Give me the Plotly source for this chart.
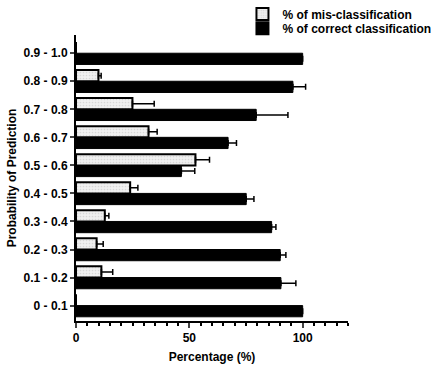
import plotly.graph_objects as go

categories = ["0 - 0.1", "0.1 - 0.2", "0.2 - 0.3", "0.3 - 0.4", "0.4 - 0.5",
              "0.5 - 0.6", "0.6 - 0.7", "0.7 - 0.8", "0.8 - 0.9", "0.9 - 1.0"]
mis_values = [0, 11.2, 9.1, 12.7, 23.9, 52.7, 32.0, 24.9, 9.9, 0]
mis_errors = [0, 5.0, 2.9, 1.8, 3.4, 6.2, 3.8, 9.6, 1.2, 0]
correct_values = [100, 90.4, 90.1, 86.3, 75.1, 46.5, 67.1, 79.5, 95.7, 100]
correct_errors = [0, 6.6, 2.5, 1.9, 3.4, 5.9, 3.7, 14.0, 5.6, 0]
x_ticks = [0, 50, 100]

FAM = "Liberation Sans, Arial, sans-serif"
bold = dict(family=FAM, size=12, color="black", weight="bold")

fig = go.Figure()
fig.add_trace(go.Bar(
    y=categories, x=correct_values, orientation="h",
    name="% of correct classification", legend="legend2",
    marker=dict(color="black", line=dict(color="black", width=1)),
    error_x=dict(type="data", array=correct_errors, arrayminus=[0]*len(categories),
                 symmetric=False, color="black", thickness=1.5, width=3),
))
fig.add_trace(go.Bar(
    y=categories, x=mis_values, orientation="h",
    name="% of mis-classification", legend="legend",
    marker=dict(color="#ededed", line=dict(color="black", width=2),
                pattern=dict(shape=".", fgcolor="#bdbdbd", bgcolor="#f0f0f0", size=3, solidity=0.25)),
    error_x=dict(type="data", array=mis_errors, arrayminus=[0]*len(categories),
                 symmetric=False, color="black", thickness=1.5, width=3),
))

leg_common = dict(xanchor="left", yanchor="middle", font=bold,
                  bgcolor="rgba(0,0,0,0)", itemsizing="constant")
fig.update_layout(
    width=440, height=369,
    margin=dict(l=76, r=92, t=35, b=48, autoexpand=False),
    barmode="group", bargap=0.2, bargroupgap=0,
    plot_bgcolor="white", paper_bgcolor="white",
    font=dict(family=FAM, size=12, color="black"),
    showlegend=True,
    legend=dict(x=0.612, y=1.073, **leg_common),
    legend2=dict(x=0.612, y=1.024, **leg_common),
    xaxis=dict(range=[0, 120], tickvals=x_ticks, ticks="outside", ticklen=5, tickwidth=2,
               showline=True, linecolor="black", linewidth=2, showgrid=False, zeroline=False,
               automargin=False, tickfont=bold,
               minor=dict(dtick=5, tick0=0, ticks="outside", ticklen=3, tickwidth=1.5, tickcolor="black", showgrid=False),
               title=dict(text="Percentage (%)", standoff=8, font=bold)),
    yaxis=dict(type="category", categoryorder="array", categoryarray=categories,
               range=[-0.55, 9.65], ticks="outside", ticklen=4, tickwidth=2,
               showline=True, linecolor="black", linewidth=2, showgrid=False, zeroline=False,
               automargin=False, tickfont=bold,
               title=dict(text="Probability of Prediction", standoff=4, font=bold)),
)

fig.write_html("out.html", config={"displayModeBar": False},
               post_script="document.body.style.margin='0';document.body.style.padding='0';")
